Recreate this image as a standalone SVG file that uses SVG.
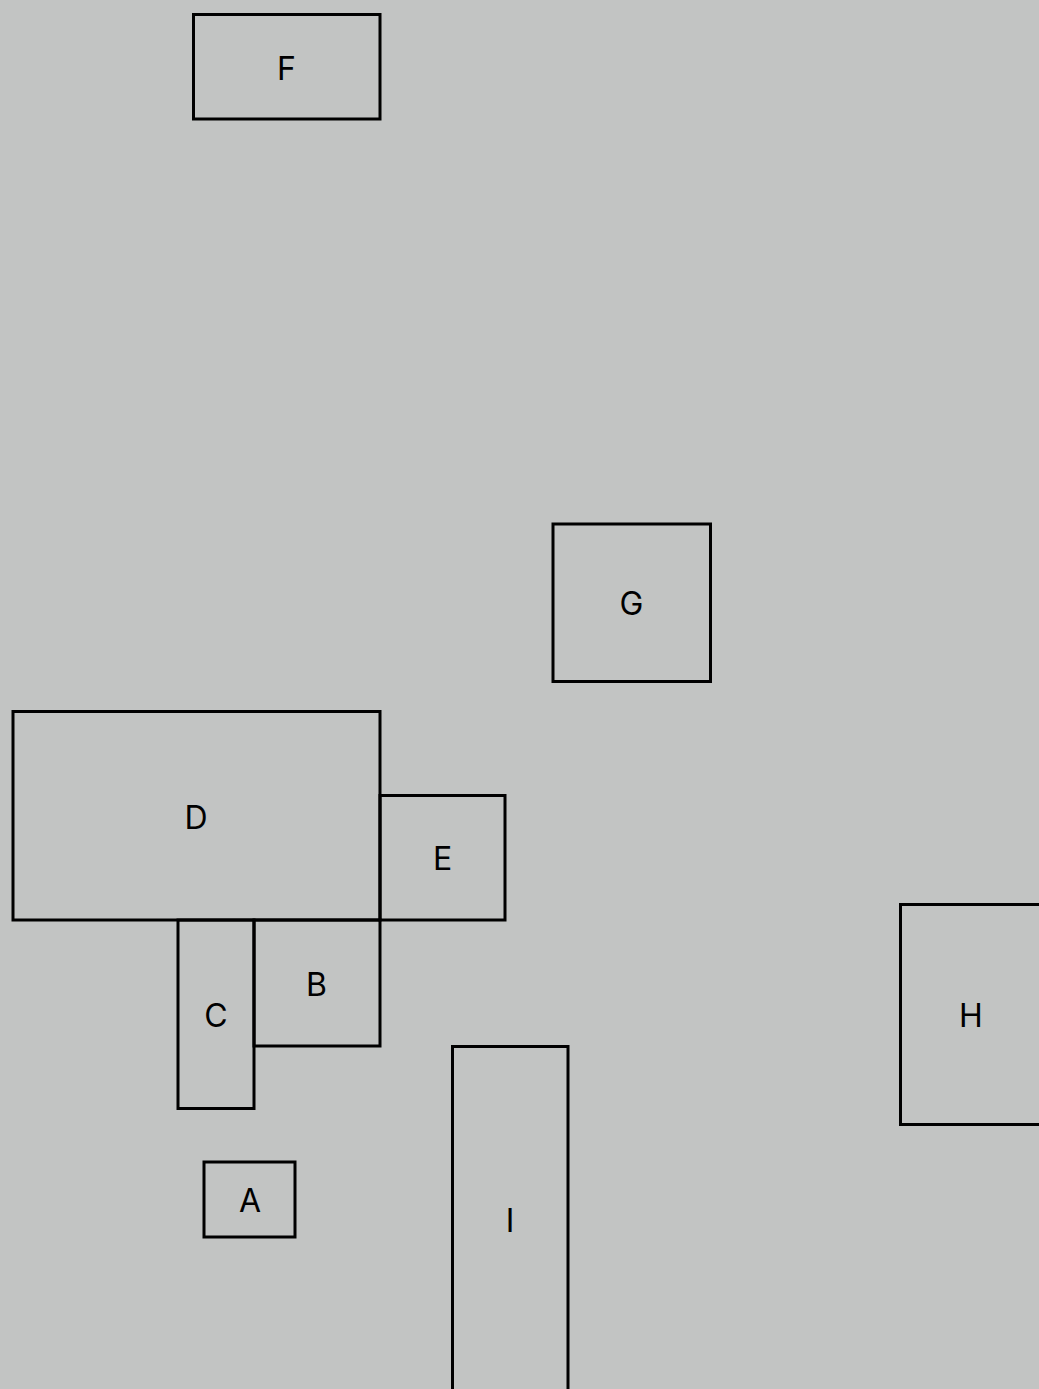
<svg xmlns="http://www.w3.org/2000/svg" width="1039" height="1389" viewBox="0 0 1039 1389">
<style>
.n rect{fill:none;stroke:#000;stroke-width:3}
.n text{font-family:Inter,"Liberation Sans",sans-serif;font-size:32px;text-anchor:middle;fill:#000}
</style>
<rect x="0" y="0" width="1039" height="1389" fill="#c2c4c3"/>
<g id="connectors"></g>
<g id="F" class="n"><rect x="193.5" y="14.5" width="186.5" height="104.5"/><text x="286.5" y="79.5">F</text></g>
<g id="G" class="n"><rect x="553" y="524" width="157.5" height="157.5"/><text x="631.5" y="614.5">G</text></g>
<g id="D" class="n"><rect x="13" y="711.5" width="367" height="208.5"/><text x="196" y="828.5">D</text></g>
<g id="E" class="n"><rect x="380" y="795.5" width="125" height="124.5"/><text x="442.5" y="869.5">E</text></g>
<g id="C" class="n"><rect x="178" y="920" width="76" height="188.5"/><text x="216" y="1026.5">C</text></g>
<g id="B" class="n"><rect x="254" y="920" width="126" height="126"/><text x="316.5" y="995.5">B</text></g>
<g id="A" class="n"><rect x="204" y="1162" width="91" height="75"/><text x="250" y="1211.5">A</text></g>
<g id="I" class="n"><rect x="452.5" y="1046.5" width="115.5" height="350"/><text x="510" y="1231.5">I</text></g>
<g id="H" class="n"><rect x="900.5" y="904.5" width="142" height="220"/><text x="971" y="1026.5">H</text></g>
</svg>
